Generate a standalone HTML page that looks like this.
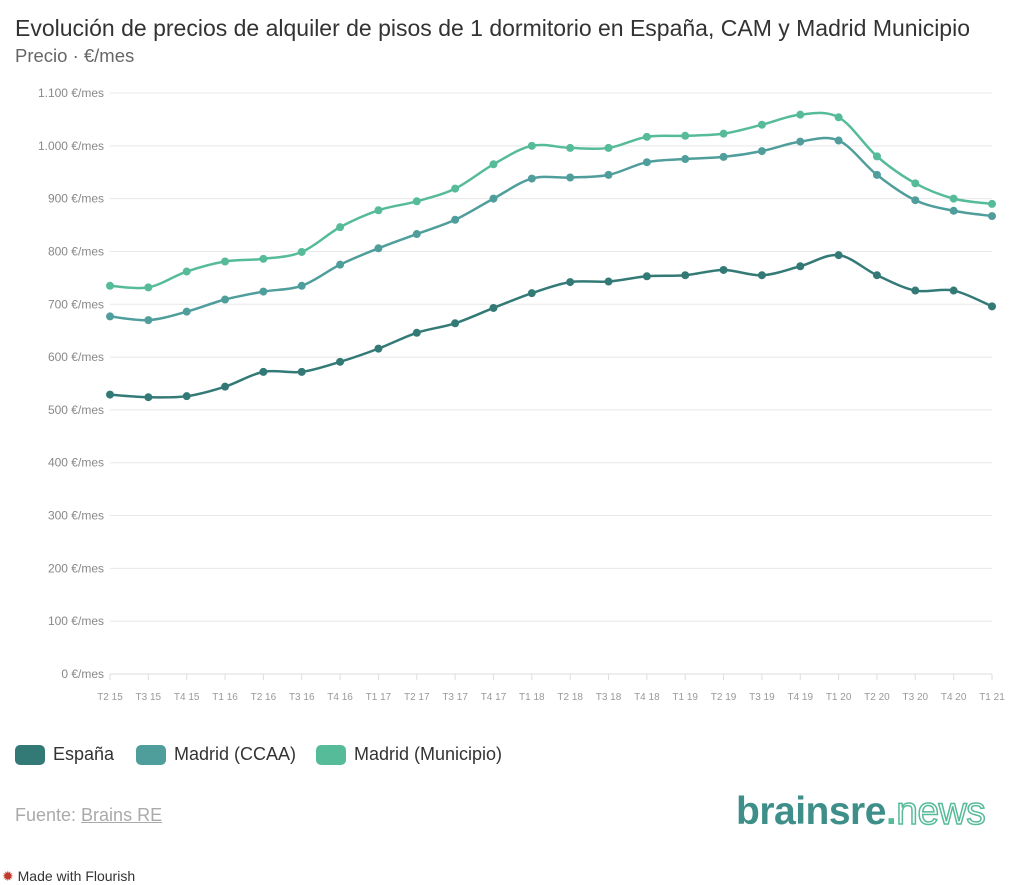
<!DOCTYPE html>
<html><head><meta charset="utf-8"><style>
body{margin:0;width:1024px;height:884px;background:#fff;font-family:"Liberation Sans",sans-serif;overflow:hidden;position:relative}
.t{position:absolute;left:15px;top:15px;font-size:23px;color:#333}
.s{position:absolute;left:15px;top:45px;font-size:18.5px;color:#666}
.leg{position:absolute;top:744px;font-size:18px;color:#333;display:flex;align-items:center}
.sw{width:30px;height:20px;border-radius:5px;margin-right:8px;display:inline-block}
</style></head><body>
<div class="t">Evolución de precios de alquiler de pisos de 1 dormitorio en España, CAM y Madrid Municipio</div>
<div class="s">Precio · €/mes</div>
<svg id="c" width="1024" height="720" style="position:absolute;left:0;top:0"></svg>
<div class="leg" style="left:15px"><span class="sw" style="background:#337a77"></span>España</div>
<div class="leg" style="left:136px"><span class="sw" style="background:#4f9e9c"></span>Madrid (CCAA)</div>
<div class="leg" style="left:316px"><span class="sw" style="background:#56bb98"></span>Madrid (Municipio)</div>
<div style="position:absolute;left:15px;top:805px;font-size:18px;color:#aaa">Fuente: <span style="text-decoration:underline">Brains RE</span></div>
<div style="position:absolute;left:736px;top:790px;font-size:39px;font-weight:bold;letter-spacing:-0.5px"><span style="color:#3e8f8a">brainsre</span><span style="color:#56bb98">.</span><span style="color:#fff;-webkit-text-stroke:1.5px #56bb98;font-weight:normal">news</span></div>
<div style="position:absolute;left:2px;top:868px;font-size:14px;color:#333"><span style="color:#c0392b">✹</span> Made with Flourish</div>
<script>
const categories=["T2 15","T3 15","T4 15","T1 16","T2 16","T3 16","T4 16","T1 17","T2 17","T3 17","T4 17","T1 18","T2 18","T3 18","T4 18","T1 19","T2 19","T3 19","T4 19","T1 20","T2 20","T3 20","T4 20","T1 21"];
const espana=[529,524,526,544,572,572,591,616,646,664,693,721,742,743,753,755,765,755,772,793,755,726,726,696];
const madridCCAA=[677,670,686,709,724,735,775,806,833,860,900,938,940,945,969,975,979,990,1008,1010,945,897,877,867];
const madridMunicipio=[735,732,762,781,786,799,846,878,895,919,965,1000,996,996,1017,1019,1023,1040,1059,1054,980,929,900,890];
const yTicks=[0,100,200,300,400,500,600,700,800,900,1000,1100];
const svg=document.getElementById('c'),NS='http://www.w3.org/2000/svg';
const x0=110,x1=992,y0=674,y1=93,yMax=1100;
const X=i=>x0+i*(x1-x0)/(categories.length-1);
const Y=v=>y0-v*(y0-y1)/yMax;
function mk(t,a){const e=document.createElementNS(NS,t);for(const k in a)e.setAttribute(k,a[k]);svg.appendChild(e);return e;}
yTicks.forEach(v=>{
 const l=mk('line',{x1:x0,x2:x1,y1:Y(v),y2:Y(v),stroke:v?'#e8e8e8':'#ddd','stroke-width':1});
 
 
 const t=mk('text',{x:104,y:Y(v)+4,'text-anchor':'end','font-size':12,fill:'#888','font-family':'Liberation Sans,sans-serif'});
 t.textContent=(v>=1000?(v/1000).toFixed(3):v)+' €/mes';
 
 
});
categories.forEach((c,i)=>{
 const l=mk('line',{x1:X(i),x2:X(i),y1:y0,y2:y0+6,stroke:'#ddd'});
 
 
 const t=mk('text',{x:X(i),y:700,'text-anchor':'middle','font-size':10,fill:'#999','font-family':'Liberation Sans,sans-serif'});
 t.textContent=c;
 
 
});
function path(d){const p=d.map((v,i)=>[X(i),Y(v)]);let s='M'+p[0];
 for(let i=0;i<p.length-1;i++){const a=p[Math.max(i-1,0)],b=p[i],c=p[i+1],e=p[Math.min(i+2,p.length-1)];
 s+='C'+[b[0]+(c[0]-a[0])/6,b[1]+(c[1]-a[1])/6]+' '+[c[0]-(e[0]-b[0])/6,c[1]-(e[1]-b[1])/6]+' '+c;}return s;}
[[espana,'#337a77','espana'],[madridCCAA,'#4f9e9c','madrid-ccaa'],[madridMunicipio,'#56bb98','madrid-municipio']].forEach(([d,col,n])=>{
 const p=mk('path',{d:path(d),fill:'none',stroke:col,'stroke-width':2.5});
 
 
 d.forEach((v,i)=>{const c=mk('circle',{cx:X(i),cy:Y(v),r:4,fill:col});
 
 });
});
</script>
</body></html>
